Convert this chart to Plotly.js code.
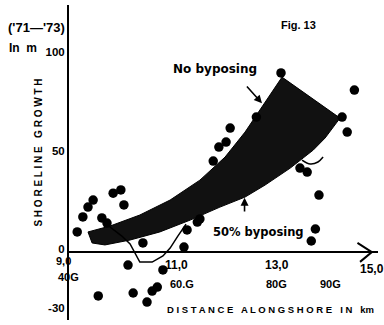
<!DOCTYPE html>
<html>
<head>
<meta charset="utf-8">
<script src="https://cdn.plot.ly/plotly-3.0.1.min.js"></script>
<style>html,body{margin:0;padding:0;background:#fff;}#chart{width:384px;height:325px;}</style>
</head>
<body>
<div id="chart"></div>
<script>
// Measured points: distance alongshore (km) and shoreline growth (m)
const pointKm = [9.16, 9.27, 9.37, 9.47, 9.86, 10.01, 10.07, 9.64, 9.74, 10.44, 11.24, 10.15, 10.83, 10.72, 10.62, 10.25, 9.57, 10.52, 11.30, 11.50, 11.55, 11.81, 11.92, 12.06, 12.14, 12.65, 13.13, 14.56, 14.32, 14.42, 13.50, 13.64, 13.87, 13.80, 13.72];
const pointGrowth = [10.2, 17.8, 22.8, 26.4, 29.9, 31.5, 23.9, 17.3, 14.7, 4.6, 2.5, -6.6, -9.1, -17.8, -19.8, -20.8, -22.3, -25.4, 11.2, 15.2, 16.8, 46.2, 53.3, 55.8, 62.9, 68.5, 90.9, 82.2, 68.5, 60.9, 42.6, 40.6, 28.9, 11.7, 5.6];

// Model band: upper edge "No bypassing" and lower edge "50% bypassing"
const upperKm = [9.37, 9.80, 10.38, 10.97, 11.55, 12.04, 12.43, 12.78, 13.15, 14.28];
const upperGrowth = [10.2, 13.2, 18.8, 26.4, 36.5, 48.2, 60.9, 74.6, 88.8, 68.0];
const lowerKm = [14.28, 13.99, 13.76, 13.31, 12.82, 12.43, 11.94, 11.36, 10.77, 10.19, 9.70, 9.45, 9.37];
const lowerGrowth = [68.0, 57.9, 51.8, 42.6, 34.0, 27.9, 22.8, 16.2, 10.2, 6.1, 3.6, 4.6, 10.2];

// Thin profile lines
const profileKm = [9.66, 9.80, 10.03, 10.19, 10.38, 10.62, 10.83, 10.97, 11.12, 11.28];
const profileGrowth = [17.3, 12.7, 8.1, 4.1, -5.1, -5.1, -2.0, 2.0, 8.1, 14.2];
const squiggleKm = [13.54, 13.70, 13.85, 13.95];
const squiggleGrowth = [46.7, 44.7, 45.7, 48.2];

// Axis labels
const yTickVals = [-30, 0, 50, 100];
const yTickText = ['-30', '0', '50', '100'];
const kmLabelPos = [11.09, 13.05, 14.9];
const kmLabels = ['11,0', '13,0', '15,0'];
const gaugeLabelPos = [11.2, 13.05, 14.09];
const gaugeLabels = ['60.G', '80G', '90G'];
const originKmLabel = '9,0';
const originGaugeLabel = '40G';

const bandX = upperKm.concat(lowerKm);
const bandY = upperGrowth.concat(lowerGrowth);

const FONT = 'Liberation Sans, Arial, sans-serif';
const WFONT = 'DejaVu Sans, sans-serif';

const traces = [
  {x: bandX, y: bandY, type: 'scatter', mode: 'lines', fill: 'toself',
   fillcolor: '#111', line: {color: '#000', width: 1}, hoverinfo: 'skip'},
  {x: profileKm, y: profileGrowth, type: 'scatter', mode: 'lines',
   line: {color: '#000', width: 1.5}},
  {x: squiggleKm, y: squiggleGrowth, type: 'scatter', mode: 'lines',
   line: {color: '#000', width: 1.5, shape: 'spline'}},
  {x: pointKm, y: pointGrowth, type: 'scatter', mode: 'markers',
   marker: {color: '#000', size: 9.5}}
];

const annotations = [];
kmLabels.forEach((t, i) => annotations.push({
  x: kmLabelPos[i], y: i === 2 ? -8.6 : -6.6, xref: 'x', yref: 'y', text: '<b>' + t + '</b>',
  showarrow: false, font: {family: FONT, size: 12, color: '#000'}
}));
gaugeLabels.forEach((t, i) => annotations.push({
  x: gaugeLabelPos[i], y: -16, xref: 'x', yref: 'y', text: '<b>' + t + '</b>',
  showarrow: false, font: {family: FONT, size: 11, color: '#000'}
}));
annotations.push(
  {x: -0.047, y: 0.162, xref: 'paper', yref: 'paper', text: '<b>' + originKmLabel + '</b>',
   showarrow: false, font: {family: FONT, size: 11, color: '#000'}},
  {x: -0.042, y: 0.112, xref: 'paper', yref: 'paper', text: '<b>' + originGaugeLabel + '</b>',
   showarrow: false, font: {family: FONT, size: 11, color: '#000'}},
  {x: 12.92, y: -29.4, xref: 'x', yref: 'y', text: '<b>D I S T A N C E   A L O N G S H O R E   I N   km</b>',
   showarrow: false, font: {family: FONT, size: 9.5, color: '#000'}},
  {x: 11.85, y: 93, xref: 'x', yref: 'y', text: '<b>No byposing</b>', showarrow: false,
   font: {family: WFONT, size: 12, color: '#000'}},
  {x: 12.70, y: 10.2, xref: 'x', yref: 'y', text: '<b>50% byposing</b>', showarrow: false,
   font: {family: WFONT, size: 11.5, color: '#000'}},
  {x: 12.76, y: 75.5, ax: 12.44, ay: 84.8, xref: 'x', yref: 'y', axref: 'x', ayref: 'y',
   showarrow: true, arrowhead: 2, arrowsize: 1, arrowwidth: 1.6, arrowcolor: '#000', text: ''},
  {x: 12.42, y: 27.5, ax: 12.42, ay: 19.8, xref: 'x', yref: 'y', axref: 'x', ayref: 'y',
   showarrow: true, arrowhead: 2, arrowsize: 1, arrowwidth: 1.6, arrowcolor: '#000', text: ''},
  {x: -0.126, y: 0.53, xref: 'paper', yref: 'paper', text: '<b>S H O R E L I N E   G R O W T H</b>',
   textangle: -90, showarrow: false, font: {family: FONT, size: 10, color: '#000'}},
  {x: -0.205, y: 0.96, xref: 'paper', yref: 'paper', xanchor: 'left', text: "<b>('71\u2014'73)</b>",
   showarrow: false, font: {family: FONT, size: 13, color: '#000'}},
  {x: -0.2, y: 0.892, xref: 'paper', yref: 'paper', xanchor: 'left', text: '<b>In  m</b>',
   showarrow: false, font: {family: FONT, size: 12, color: '#000'}},
  {x: 0.806, y: 0.962, xref: 'paper', yref: 'paper', text: '<b>Fig. 13</b>',
   showarrow: false, font: {family: FONT, size: 11, color: '#000'}}
);

const layout = {
  width: 384, height: 325,
  margin: {l: 69, r: 6, t: 5, b: 5},
  paper_bgcolor: '#fff', plot_bgcolor: '#fff',
  showlegend: false,
  xaxis: {range: [9, 15.02], showgrid: false, zeroline: false, showline: false,
          showticklabels: false, ticks: ''},
  yaxis: {range: [-34.5, 125.4], showgrid: false, zeroline: true, zerolinecolor: '#000',
          zerolinewidth: 2, showline: true, linecolor: '#000', linewidth: 2,
          tickvals: yTickVals, ticktext: yTickText, ticks: '', ticklabelshift: -3,
          tickfont: {family: FONT, size: 11.5, color: '#000', weight: 'bold'}},
  shapes: [
    {type: 'path', xref: 'x', yref: 'y', path: 'M 14.62 4.6 L 14.9 0 L 14.67 -5',
     line: {color: '#000', width: 2}}
  ],
  annotations: annotations
};

Plotly.newPlot('chart', traces, layout, {staticPlot: true, displayModeBar: false});
</script>
</body>
</html>
